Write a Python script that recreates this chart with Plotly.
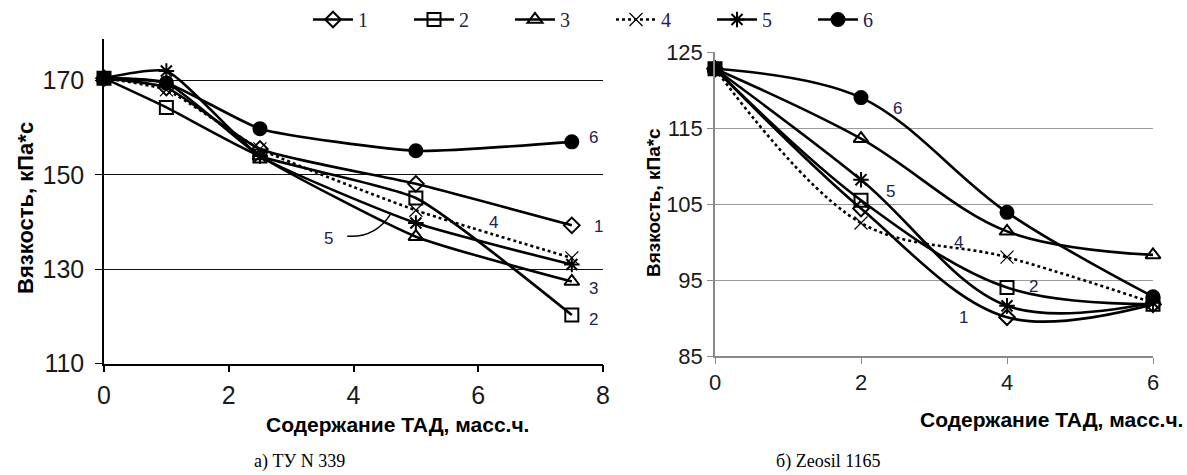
import plotly.graph_objects as go

# ---------------- data ----------------
series_names = ["1", "2", "3", "4", "5", "6"]

# panel a) ТУ N 339
x_left = [0, 1, 2.5, 5, 7.5]
left_1 = [170.5, 168.5, 155.5, 148.1, 139.3]
left_2 = [170.5, 164.3, 154.0, 145.1, 120.3]
left_3 = [170.5, 169.5, 154.0, 136.9, 127.4]
left_4 = [170.5, 168.0, 155.5, 142.5, 132.4]
left_5 = [170.5, 172.0, 154.0, 139.8, 131.0]
left_6 = [170.5, 169.5, 159.8, 155.1, 157.0]

# panel б) Zeosil 1165
x_right = [0, 2, 4, 6]
right_1 = [122.8, 104.4, 90.1, 91.8]
right_2 = [122.8, 105.5, 94.0, 91.8]
right_3 = [122.8, 113.6, 101.4, 98.3]
right_4 = [122.8, 102.5, 98.0, 92.0]
right_5 = [122.8, 108.2, 91.6, 92.0]
right_6 = [122.8, 119.0, 103.9, 92.8]

left_ticks_x = [0, 2, 4, 6, 8]
left_ticks_y = [110, 130, 150, 170]
right_ticks_x = [0, 2, 4, 6]
right_ticks_y = [85, 95, 105, 115, 125]

y_title = "Вязкость, кПа*с"
x_title = "Содержание ТАД, масс.ч."
caption_left = "а) ТУ N 339"
caption_right = "б) Zeosil 1165"

# curve number labels (text, x, y)
left_labels = [("6", 7.85, 158.0), ("1", 7.92, 139.0), ("3", 7.85, 126.0),
               ("2", 7.85, 119.3), ("4", 6.25, 140.0), ("5", 3.6, 136.6)]
right_labels = [("6", 2.5, 117.6), ("5", 2.4, 106.6), ("4", 3.33, 100.0),
                ("2", 4.36, 94.2), ("1", 3.41, 90.1), ("3", 6.22, 98.9)]

# ---------------- styles ----------------
symbols = ["diamond-open", "square-open", "triangle-up-open", "x-thin-open",
           "asterisk-open", "circle"]
msizes = [12, 13, 13, 13, 13, 13]
dashes = ["solid", "solid", "solid", "dot", "solid", "solid"]
label_color = "#24204f"

fig = go.Figure()

left_data = [left_1, left_2, left_3, left_4, left_5, left_6]
right_data = [right_1, right_2, right_3, right_4, right_5, right_6]

for i, (name, ys) in enumerate(zip(series_names, left_data)):
    fig.add_trace(go.Scatter(
        x=x_left, y=ys, name=name, mode="lines+markers",
        line=dict(color="black", width=2.6, dash=dashes[i], shape="spline", smoothing=0.5),
        marker=dict(symbol=symbols[i], size=msizes[i], color="black",
                    line=dict(color="black", width=2 if i != 3 else 1.2)),
        xaxis="x", yaxis="y", showlegend=True, legendgroup=name, cliponaxis=False))

for i, (name, ys) in enumerate(zip(series_names, right_data)):
    fig.add_trace(go.Scatter(
        x=x_right, y=ys, name=name, mode="lines+markers",
        line=dict(color="black", width=2.6, dash=dashes[i], shape="spline", smoothing=1.0),
        marker=dict(symbol=symbols[i], size=msizes[i], color="black",
                    line=dict(color="black", width=2 if i != 3 else 1.2)),
        xaxis="x2", yaxis="y2", showlegend=False, legendgroup=name, cliponaxis=False))

W, H = 1187, 475
def px(x):
    return x / W
def py(y):
    return 1 - y / H

tickfont_l = dict(family="Liberation Sans Narrow, Arial Narrow, Liberation Sans, Arial", size=25, color="#1a1a1a")
tickfont_r = dict(family="Liberation Sans Narrow, Arial Narrow, Liberation Sans, Arial", size=22, color="#1a1a1a")

fig.update_layout(
    width=W, height=H,
    margin=dict(l=0, r=0, t=0, b=0, autoexpand=False),
    paper_bgcolor="white", plot_bgcolor="white",
    xaxis=dict(domain=[px(104), px(603)], range=[0, 8], tickvals=left_ticks_x,
               showgrid=False, zeroline=False, showline=True, linecolor="black", linewidth=1.5,
               ticks="outside", ticklen=7, tickcolor="black", tickwidth=1.5,
               ticklabelstandoff=2, tickfont=tickfont_l, anchor="y"),
    yaxis=dict(domain=[py(363.6), py(39)], range=[110, 178.8], tickvals=left_ticks_y,
               showgrid=True, gridcolor="#111111", gridwidth=1.2, zeroline=False,
               showline=True, linecolor="black", linewidth=1.5,
               ticks="outside", ticklen=7, tickcolor="black", tickwidth=1.2,
               ticklabelstandoff=6, tickfont=tickfont_l, anchor="x"),
    xaxis2=dict(domain=[px(715), px(1153)], range=[0, 6], tickvals=right_ticks_x,
                showgrid=False, zeroline=False, showline=True, linecolor="#8a8a8a", linewidth=1.5,
                ticks="outside", ticklen=6, tickcolor="#8a8a8a", tickwidth=1.2,
                tickfont=tickfont_r, anchor="y2"),
    yaxis2=dict(domain=[py(356), py(52)], range=[85, 125], tickvals=right_ticks_y,
                showgrid=True, gridcolor="#9a9a9a", gridwidth=1.2, zeroline=False,
                showline=True, linecolor="#8a8a8a", linewidth=1.5,
                ticks="outside", ticklen=6, tickcolor="#8a8a8a", tickwidth=1.2,
                tickfont=tickfont_r, anchor="x2"),
    legend=dict(orientation="h", x=px(308), xanchor="left", y=1.0, yanchor="top",
                font=dict(family="Liberation Serif, Times New Roman, serif", size=20, color=label_color),
                entrywidth=46, entrywidthmode="pixels", itemwidth=40,
                bgcolor="rgba(0,0,0,0)", tracegroupgap=0),
    showlegend=True,
)

annotations = []
for t, x, y in left_labels:
    annotations.append(dict(text=t, x=x, y=y, xref="x", yref="y", showarrow=False,
                            font=dict(family="Liberation Sans, Arial", size=17, color=label_color)))
for t, x, y in right_labels:
    annotations.append(dict(text=t, x=x, y=y, xref="x2", yref="y2", showarrow=False,
                            font=dict(family="Liberation Sans, Arial", size=17, color=label_color)))

xtitlefont = dict(family="Liberation Sans, Arial", size=21, color="black")
serif = dict(family="Liberation Serif, Times New Roman, serif", size=18, color="black")
paper_texts = [
    (y_title, 25, 208, -90, "center", dict(family="Liberation Sans, Arial", size=22, color="black"), True),
    (y_title, 653, 203, -90, "center", dict(family="Liberation Sans, Arial", size=19, color="black"), True),
    (x_title, 397, 424, 0, "center", xtitlefont, True),
    (x_title, 1185, 419, 0, "right", xtitlefont, True),
    (caption_left, 300, 461, 0, "center", serif, False),
    (caption_right, 828, 461, 0, "center", serif, False),
]
for text, xx, yy, ang, xa, fnt, bold in paper_texts:
    annotations.append(dict(text=("<b>" + text + "</b>") if bold else text,
                            x=px(xx), y=py(yy), xref="paper", yref="paper",
                            xanchor=xa, yanchor="middle", textangle=ang,
                            showarrow=False, font=fnt))
fig.update_layout(annotations=annotations)

# leader line from label "5" to its curve (left panel)
fig.add_shape(type="path", xref="x", yref="y",
              path="M 3.9,137.0 Q 4.35,136.6 4.6,141.8",
              line=dict(color="black", width=1.5))

fig.write_html("out.html", config={"displayModeBar": False},
               post_script="document.body.style.margin='0px';document.documentElement.style.overflow='hidden';")
